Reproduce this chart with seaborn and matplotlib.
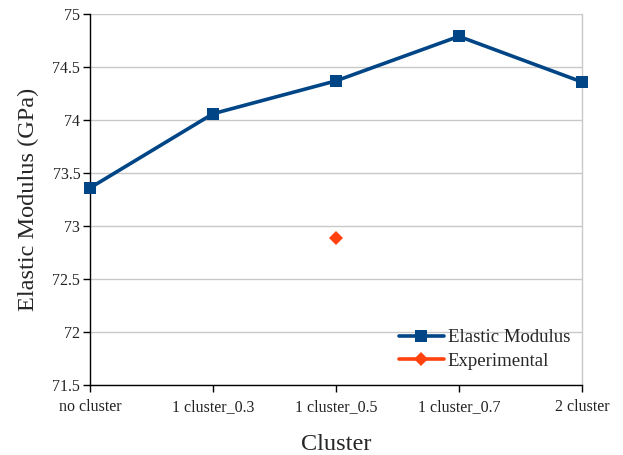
'''line chart of elastic modulus by cluster configuration'''
import numpy as np
import pandas as pd
import seaborn as sns
import matplotlib.pyplot as plt

# data
categories = ['no cluster', '1 cluster_0.3', '1 cluster_0.5', '1 cluster_0.7', '2 cluster']
elastic_modulus = [73.36, 74.06, 74.37, 74.79, 74.36]
experimental = [np.nan, np.nan, 72.89, np.nan, np.nan]
y_ticks = [71.5, 72, 72.5, 73, 73.5, 74, 74.5, 75]

BLUE = '#004586'
ORANGE = '#ff420e'

sns.set_theme(style='white')
plt.rcParams['font.family'] = ['Liberation Serif', 'DejaVu Serif']

df = pd.DataFrame({'Cluster': categories,
                   'Elastic Modulus': elastic_modulus,
                   'Experimental': experimental})

fig = plt.figure(figsize=(6.23, 4.55), dpi=100)
ax = fig.add_axes([0.1445, 0.1538, 0.7895, 0.8152])

sns.lineplot(data=df, x='Cluster', y='Elastic Modulus', ax=ax, color=BLUE,
             linewidth=2.6, marker='s', markersize=9, markeredgewidth=0,
             sort=False, label='Elastic Modulus', clip_on=False, zorder=5)
exp = df.dropna(subset=['Experimental'])
sns.lineplot(data=exp, x='Cluster', y='Experimental', ax=ax, color=ORANGE,
             linewidth=2.6, marker='D', markersize=7, markeredgewidth=0,
             sort=False, label='Experimental', clip_on=False, zorder=5)

ax.set_xlim(0, len(categories) - 1)
ax.set_ylim(71.5, 75)
ax.set_yticks(y_ticks)
ax.set_yticklabels([f'{v:g}' for v in y_ticks], fontsize=11.5)
ax.set_xticks(range(len(categories)))
ax.set_xticklabels(categories, fontsize=11.5)
ax.yaxis.grid(True, color='#c8c8c8', linewidth=1)
ax.set_axisbelow(True)
ax.tick_params(axis='both', direction='out', length=5, width=1, color='black',
               colors='#222222', left=True, bottom=True, pad=2)
ax.tick_params(axis='x', pad=5)
for side in ['left', 'bottom']:
    ax.spines[side].set_color('black')
    ax.spines[side].set_linewidth(1)
ax.spines['top'].set_visible(False)
ax.spines['right'].set_color('#c8c8c8')
ax.spines['right'].set_linewidth(1)

ax.set_xlabel('Cluster', fontsize=17.5, labelpad=14)
ax.set_ylabel('Elastic Modulus (GPa)', fontsize=17.5, labelpad=10)

ax.legend(loc='lower right', bbox_to_anchor=(1.01, -0.005), frameon=False,
          fontsize=13.5, handlelength=2.4, handletextpad=0.2, labelspacing=0.35)

fig.savefig('out.png', dpi=100)
